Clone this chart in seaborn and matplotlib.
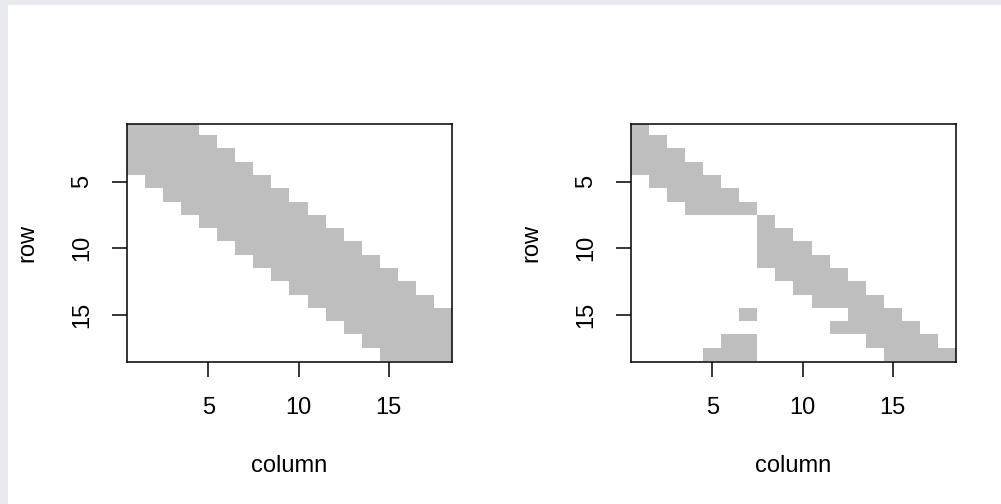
import numpy as np
import pandas as pd
import matplotlib
matplotlib.use("Agg")
import matplotlib.pyplot as plt
from matplotlib.colors import ListedColormap
from matplotlib.patches import Rectangle
import seaborn as sns

# 18x18 binary matrices (row 1 at top, column 1 at left); '1' = gray cell
rows_left = [
    "111100000000000000",
    "111110000000000000",
    "111111000000000000",
    "111111100000000000",
    "011111110000000000",
    "001111111000000000",
    "000111111100000000",
    "000011111110000000",
    "000001111111000000",
    "000000111111100000",
    "000000011111110000",
    "000000001111111000",
    "000000000111111100",
    "000000000011111110",
    "000000000001111111",
    "000000000000111111",
    "000000000000011111",
    "000000000000001111",
]
rows_right = [
    "100000000000000000",
    "110000000000000000",
    "111000000000000000",
    "111100000000000000",
    "011110000000000000",
    "001111000000000000",
    "000111100000000000",
    "000000010000000000",
    "000000011000000000",
    "000000011100000000",
    "000000011110000000",
    "000000001111000000",
    "000000000111100000",
    "000000000011110000",
    "000000100000111000",
    "000000000001111100",
    "000001100000011110",
    "000011100000001111",
]
tick_values = [5, 10, 15]
tick_labels = ["5", "10", "15"]
x_label = "column"
y_label = "row"


def to_matrix(rows):
    return np.array([[int(c) for c in r] for r in rows])


sns.set_theme(style="white")
plt.rcParams['font.family'] = ['Liberation Sans', 'DejaVu Sans']

W, H = 1001, 504
fig = plt.figure(figsize=(W / 100, H / 100), dpi=100)
fig.patch.set_facecolor('white')
border_col = '#e9eaef'
fig.patches.append(Rectangle((0, 0), 8 / W, 1, transform=fig.transFigure,
                             facecolor=border_col, edgecolor='none', zorder=0))
fig.patches.append(Rectangle((0, 1 - 5 / H), 1, 5 / H, transform=fig.transFigure,
                             facecolor=border_col, edgecolor='none', zorder=0))

cmap = ListedColormap(['white', '#bebebe'])
FS = 17
for left_px, rows in zip([127.3, 631.3], [rows_left, rows_right]):
    ax = fig.add_axes([left_px / W, 1 - 361.7 / H, 324.4 / W, 237.4 / H])
    mat = to_matrix(rows)
    n = mat.shape[0]
    df = pd.DataFrame(mat, index=range(1, n + 1), columns=range(1, n + 1))
    sns.heatmap(df, ax=ax, cmap=cmap, vmin=0, vmax=1, cbar=False, linewidths=0)
    ax.set_xlim(0, n)
    ax.set_ylim(n + 0.05, 0.18)
    ax.set_xticks([v - 0.5 for v in tick_values])
    ax.set_xticklabels(tick_labels, rotation=0)
    ax.set_yticks([v - 0.5 for v in tick_values])
    ax.set_yticklabels(tick_labels, rotation=90, va='center')
    for s in ax.spines.values():
        s.set_visible(True)
        s.set_color('black')
        s.set_linewidth(1.1)
    ax.tick_params(axis='both', which='major', length=10.8, width=1.1,
                   color='black', direction='out', labelsize=FS,
                   labelcolor='black', bottom=True, left=True)
    ax.tick_params(axis='x', pad=14.5)
    ax.tick_params(axis='y', pad=14)
    ax.set_xlabel(x_label, fontsize=FS, color='black')
    ax.set_ylabel(y_label, fontsize=FS, color='black')
    ax.xaxis.set_label_coords(0.5, -0.395)
    ax.yaxis.set_label_coords(-0.275, 0.5)

fig.savefig("out.png", dpi=100)
